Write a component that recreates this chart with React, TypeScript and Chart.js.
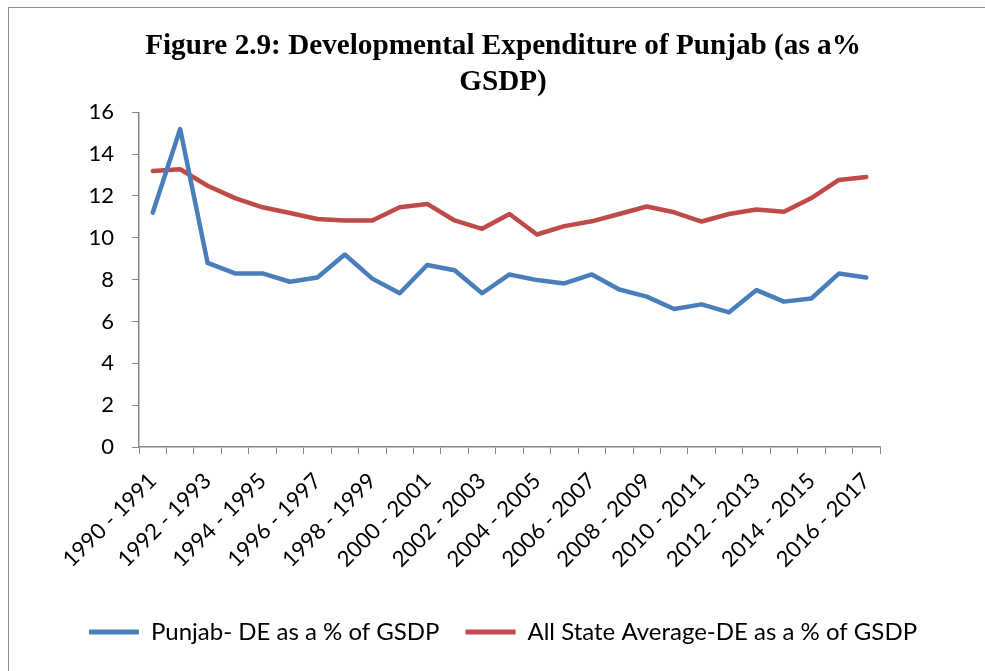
import { useEffect, useRef } from "react";
import { Chart, registerables } from "chart.js";

Chart.register(...registerables);

const categories = [
  "1990 - 1991", "1991 - 1992", "1992 - 1993", "1993 - 1994", "1994 - 1995",
  "1995 - 1996", "1996 - 1997", "1997 - 1998", "1998 - 1999", "1999 - 2000",
  "2000 - 2001", "2001 - 2002", "2002 - 2003", "2003 - 2004", "2004 - 2005",
  "2005 - 2006", "2006 - 2007", "2007 - 2008", "2008 - 2009", "2009 - 2010",
  "2010 - 2011", "2011 - 2012", "2012 - 2013", "2013 - 2014", "2014 - 2015",
  "2015 - 2016", "2016 - 2017",
];

const punjab = [
  11.2, 15.2, 8.8, 8.3, 8.3, 7.9, 8.1, 9.2, 8.05, 7.35,
  8.7, 8.45, 7.35, 8.25, 7.98, 7.82, 8.25, 7.53, 7.19, 6.6,
  6.82, 6.44, 7.5, 6.95, 7.1, 8.29, 8.1,
];

const allState = [
  13.2, 13.28, 12.49, 11.9, 11.46, 11.19, 10.9, 10.83, 10.83, 11.46,
  11.62, 10.83, 10.43, 11.14, 10.16, 10.56, 10.79, 11.14, 11.5, 11.22,
  10.78, 11.14, 11.35, 11.25, 11.9, 12.77, 12.91,
];

const seriesNames = ["Punjab- DE as a % of GSDP", "All State Average-DE as a % of GSDP"];
const titleLines = ["Figure 2.9: Developmental Expenditure of Punjab (as a%", "GSDP)"];

const AXIS = "#868686";

export default function App() {
  const ref = useRef<HTMLCanvasElement>(null);

  useEffect(() => {
    const chart = new Chart(ref.current as HTMLCanvasElement, {
      type: "line",
      data: {
        labels: categories,
        datasets: [
          {
            label: seriesNames[0],
            data: punjab,
            borderColor: "#4A7EBB",
            backgroundColor: "#4A7EBB",
            borderWidth: 4.5,
            pointRadius: 0,
            tension: 0,
            borderJoinStyle: "round",
            borderCapStyle: "round",
            yAxisID: "y",
          },
          {
            label: seriesNames[1],
            data: allState,
            borderColor: "#BE4B48",
            backgroundColor: "#BE4B48",
            borderWidth: 4.5,
            pointRadius: 0,
            tension: 0,
            borderJoinStyle: "round",
            borderCapStyle: "round",
            yAxisID: "y",
          },
        ],
      },
      options: {
        responsive: false,
        animation: false,
        layout: { padding: { left: 0, right: 0, top: 0, bottom: 54 } },
        plugins: {
          title: {
            display: true,
            text: titleLines,
            color: "#000",
            font: { family: "'Liberation Serif', serif", size: 29.2, weight: "bold", lineHeight: 1.23 },
            padding: { top: 21, bottom: 11.5 },
          },
          legend: {
            position: "bottom",
            labels: {
              boxWidth: 50,
              boxHeight: 5,
              padding: 26,
              color: "#000",
              font: { family: "Lato", size: 24 },
              generateLabels: (c: any) =>
                Chart.defaults.plugins.legend.labels
                  .generateLabels(c)
                  .map((l: any) => ({ ...l, fillStyle: l.strokeStyle, lineWidth: 0 })),
            },
          },
          tooltip: { enabled: false },
        },
        scales: {
          x: {
            offset: true,
            grid: { offset: true, drawOnChartArea: false, drawTicks: true, tickLength: 7, color: AXIS },
            border: { color: AXIS, width: 1.5 },
            ticks: {
              autoSkip: false,
              maxRotation: 45,
              minRotation: 45,
              padding: 14,
              color: "#000",
              font: { family: "Lato", size: 22 },
              callback: (_v: any, i: number) => (i % 2 === 0 ? categories[i] : ""),
            },
            afterFit: (s: any) => {
              s.height = 147;
            },
          },
          y: {
            min: 0,
            max: 16,
            grid: { drawOnChartArea: false, tickLength: 7, color: AXIS },
            border: { color: AXIS, width: 1.5 },
            ticks: { stepSize: 2, padding: 18, color: "#000", font: { family: "Lato", size: 22 } },
            afterFit: (s: any) => {
              s.width = 130;
            },
          },
          yR: {
            position: "right",
            grid: { display: false },
            border: { display: false },
            ticks: { display: false },
            afterFit: (s: any) => {
              s.width = 117;
            },
          },
        },
      },
    });
    return () => chart.destroy();
  }, []);

  return (
    <div style={{ position: "fixed", left: 0, top: 0, width: 985, height: 671, overflow: "hidden", background: "#fff" }}>
      <div
        style={{
          position: "absolute",
          left: 8,
          top: 7,
          width: 1200,
          height: 900,
          border: "1px solid #8c8c8c",
          boxSizing: "border-box",
        }}
      />
      <canvas
        ref={ref}
        width={988}
        height={700}
        style={{ position: "absolute", left: 9, top: 8, width: 988, height: 700 }}
      />
    </div>
  );
}
